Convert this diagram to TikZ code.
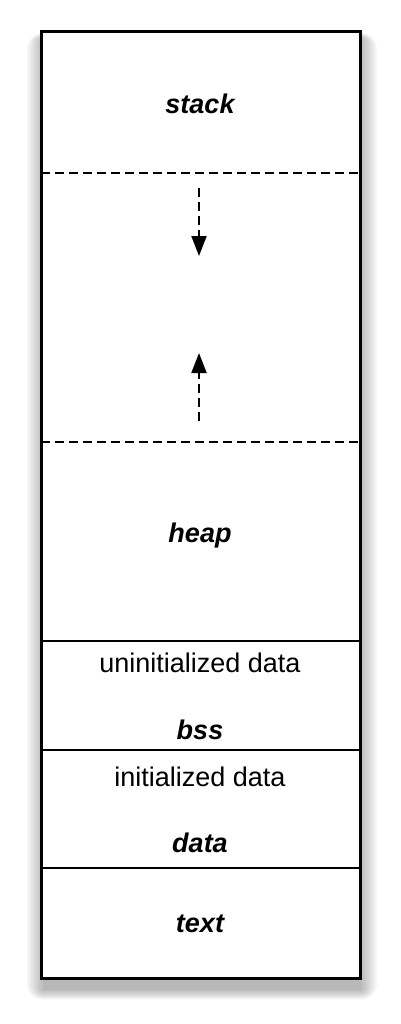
\documentclass[tikz,border=0pt]{standalone}
\usepackage{fontspec}
\setmainfont{Liberation Sans}
\usetikzlibrary{arrows.meta}
\begin{document}
\begin{tikzpicture}[x=1pt,y=-1pt,
  lbl/.style={font=\fontsize{27}{32}\selectfont\bfseries\itshape, inner sep=0pt, anchor=base},
  txt/.style={font=\fontsize{27}{32}\selectfont, inner sep=0pt, anchor=base},
  sep/.style={line width=2pt},
  dsep/.style={line width=2pt, dash pattern=on 9pt off 5pt},
  growarrow/.style={line width=2pt, dash pattern=on 9pt off 5pt, -{Triangle[width=15pt,length=20pt]}}]
\useasboundingbox (0,0) rectangle (400,1024);
% soft shadow
\foreach \r in {0,2,...,16} {
  \fill[black, opacity=0.035, rounded corners=\r pt] (43-\r,38-0.3*\r) rectangle (361+\r,990+0.6*\r);
}
% box
\fill[white] (41,32) rectangle (360,978);
\draw[sep] (41,641) -- (360,641);
\draw[sep] (41,750) -- (360,750);
\draw[sep] (41,868) -- (360,868);
\draw[dsep] (41,173) -- (360,173);
\draw[dsep] (41,442) -- (360,442);
\draw[line width=3pt] (41,32) rectangle (360,978);
% labels
\node[lbl] (stack) at (200,114) {stack};
\node[lbl] (heap) at (200,542) {heap};
\node[txt] (uninit) at (200,672) {uninitialized data};
\node[lbl] (bss) at (200,739) {bss};
\node[txt] (init) at (200,786) {initialized data};
\node[lbl] (data) at (200,852) {data};
\node[lbl] (text) at (200,932) {text};
% growth arrows
\coordinate (dstart) at (199,188);
\coordinate (dend) at (199,256);
\coordinate (ustart) at (199,421);
\coordinate (uend) at (199,353);
\draw[growarrow] (dstart) -- (dend);
\draw[growarrow] (ustart) -- (uend);
\end{tikzpicture}
\end{document}
